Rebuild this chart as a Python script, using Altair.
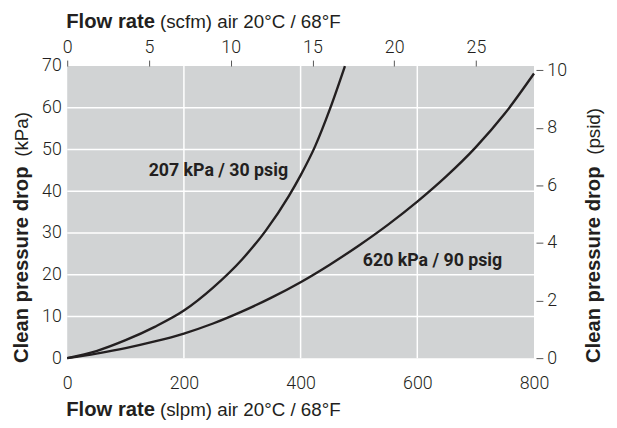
import altair as alt
import pandas as pd

# --- data ---
slpm_207 = [0, 50, 100, 150, 200, 250, 300, 340, 380, 400, 425, 450, 476]
kpa_207 = [0, 1.7, 4.3, 7.5, 11.4, 16.9, 23.7, 30.5, 38.9, 43.8, 50.8, 59.6, 70.0]

slpm_620 = [0, 50, 100, 150, 200, 250, 300, 350, 400, 450, 500, 550, 600, 650, 700, 750, 800]
kpa_620 = [0, 1.1, 2.4, 4.0, 5.9, 8.3, 11.2, 14.5, 18.2, 22.4, 27.0, 32.0, 37.5, 43.6, 50.5, 58.6, 68.2]

series_names = ["207 kPa / 30 psig", "620 kPa / 90 psig"]
label_slpm = [259, 626]
label_kpa = [44.9, 23.2]

slpm_ticks = [0, 200, 400, 600, 800]
kpa_ticks = [0, 10, 20, 30, 40, 50, 60, 70]
scfm_ticks = [0, 5, 10, 15, 20, 25]
psid_ticks = [0, 2, 4, 6, 8, 10]
grid_slpm = [200, 400, 600]
grid_kpa = [10, 20, 30, 40, 50, 60]

slpm_domain = [0, 800]
kpa_domain = [0, 70]
scfm_domain = [0, 28.55]
psid_domain = [0, 70 / 6.895]

# --- tables ---
lines_df = pd.concat([
    pd.DataFrame({"slpm": slpm_207, "kpa": kpa_207, "series": series_names[0]}),
    pd.DataFrame({"slpm": slpm_620, "kpa": kpa_620, "series": series_names[1]}),
])
labels_df = pd.DataFrame({"slpm": label_slpm, "kpa": label_kpa, "label": series_names})
sec_df = pd.DataFrame({"scfm": scfm_domain, "psid": psid_domain})
dummy = pd.DataFrame({"d": [0]})

INK = "#231f20"
TICKFONT = "Roboto"

xs = alt.Scale(domain=slpm_domain, nice=False, zero=False)
ys = alt.Scale(domain=kpa_domain, nice=False, zero=False)

x_axis = alt.Axis(values=slpm_ticks, title=None, ticks=False, domain=False, grid=False,
                  labelFont=TICKFONT, labelFontWeight=300, labelFontSize=18,
                  labelColor=INK, labelPadding=17, labelFlush=False)
y_axis = alt.Axis(values=kpa_ticks, title=None, ticks=False, domain=False, grid=False,
                  labelFont=TICKFONT, labelFontWeight=300, labelFontSize=18,
                  labelColor=INK, labelPadding=6, labelFlush=False)

X = alt.X("slpm:Q", scale=xs, axis=x_axis)
Y = alt.Y("kpa:Q", scale=ys, axis=y_axis)

vgrid = alt.Chart(pd.DataFrame({"slpm": grid_slpm})).mark_rule(
    color="white", strokeWidth=1.5).encode(x=X)
hgrid = alt.Chart(pd.DataFrame({"kpa": grid_kpa})).mark_rule(
    color="white", strokeWidth=1.5).encode(y=Y)

lines = alt.Chart(lines_df).mark_line(
    color=INK, strokeWidth=2.4, interpolate="monotone").encode(
    x=X, y=Y, detail="series:N")

labels = alt.Chart(labels_df).mark_text(
    font="Roboto", fontWeight="bold", fontSize=18, color=INK,
    align="center", baseline="middle").encode(x=X, y=Y, text="label:N")

inner = alt.layer(vgrid, hgrid, lines, labels)

secondary = alt.Chart(sec_df).mark_point(opacity=0).encode(
    x=alt.X("scfm:Q", scale=alt.Scale(domain=scfm_domain, nice=False, zero=False),
            axis=alt.Axis(orient="top", values=scfm_ticks, title=None, domain=False,
                          grid=False, tickSize=6, tickColor="#555555", tickWidth=1,
                          labelFont=TICKFONT, labelFontWeight=300, labelFontSize=18,
                          labelColor=INK, labelPadding=4, labelFlush=False)),
    y=alt.Y("psid:Q", scale=alt.Scale(domain=psid_domain, nice=False, zero=False),
            axis=alt.Axis(orient="right", values=psid_ticks, title=None, domain=False,
                          grid=False, tickSize=7, tickColor="#555555", tickWidth=1,
                          offset=2,
                          labelFont=TICKFONT, labelFontWeight=300, labelFontSize=18,
                          labelColor=INK, labelPadding=4, labelFlush=False)),
)


def title_text(s, x, y, weight, size, angle=0):
    return alt.Chart(dummy).mark_text(
        text=s, align="left", baseline="alphabetic", font="Liberation Sans",
        fontSize=size, fontWeight=weight, angle=angle, color=INK).encode(
        x=alt.value(x), y=alt.value(y))


titles = [
    title_text("Flow rate", -1, -39, "bold", 20.5),
    title_text("(scfm) air 20°C / 68°F", 94, -39, "normal", 19),
    title_text("Flow rate", -1, 355, "bold", 20.5),
    title_text("(slpm) air 20°C / 68°F", 94, 355, "normal", 19),
    title_text("Clean pressure drop", -40, 301, "bold", 20.5, 270),
    title_text("(kPa)", -40, 92, "normal", 19, 270),
    title_text("Clean pressure drop", 540, 301, "bold", 20.5, 270),
    title_text("(psid)", 540, 90, "normal", 19, 270),
]

chart = alt.layer(inner, secondary, *titles).resolve_scale(
    x="independent", y="independent"
).properties(
    width=473, height=296,
    autosize=alt.AutoSizeParams(type="none"),
    padding={"left": 60, "top": 56, "right": 76, "bottom": 68},
).configure_view(stroke=None, fill="#d1d3d4")

chart.save("out.html", embed_options={"renderer": "svg", "actions": False})
